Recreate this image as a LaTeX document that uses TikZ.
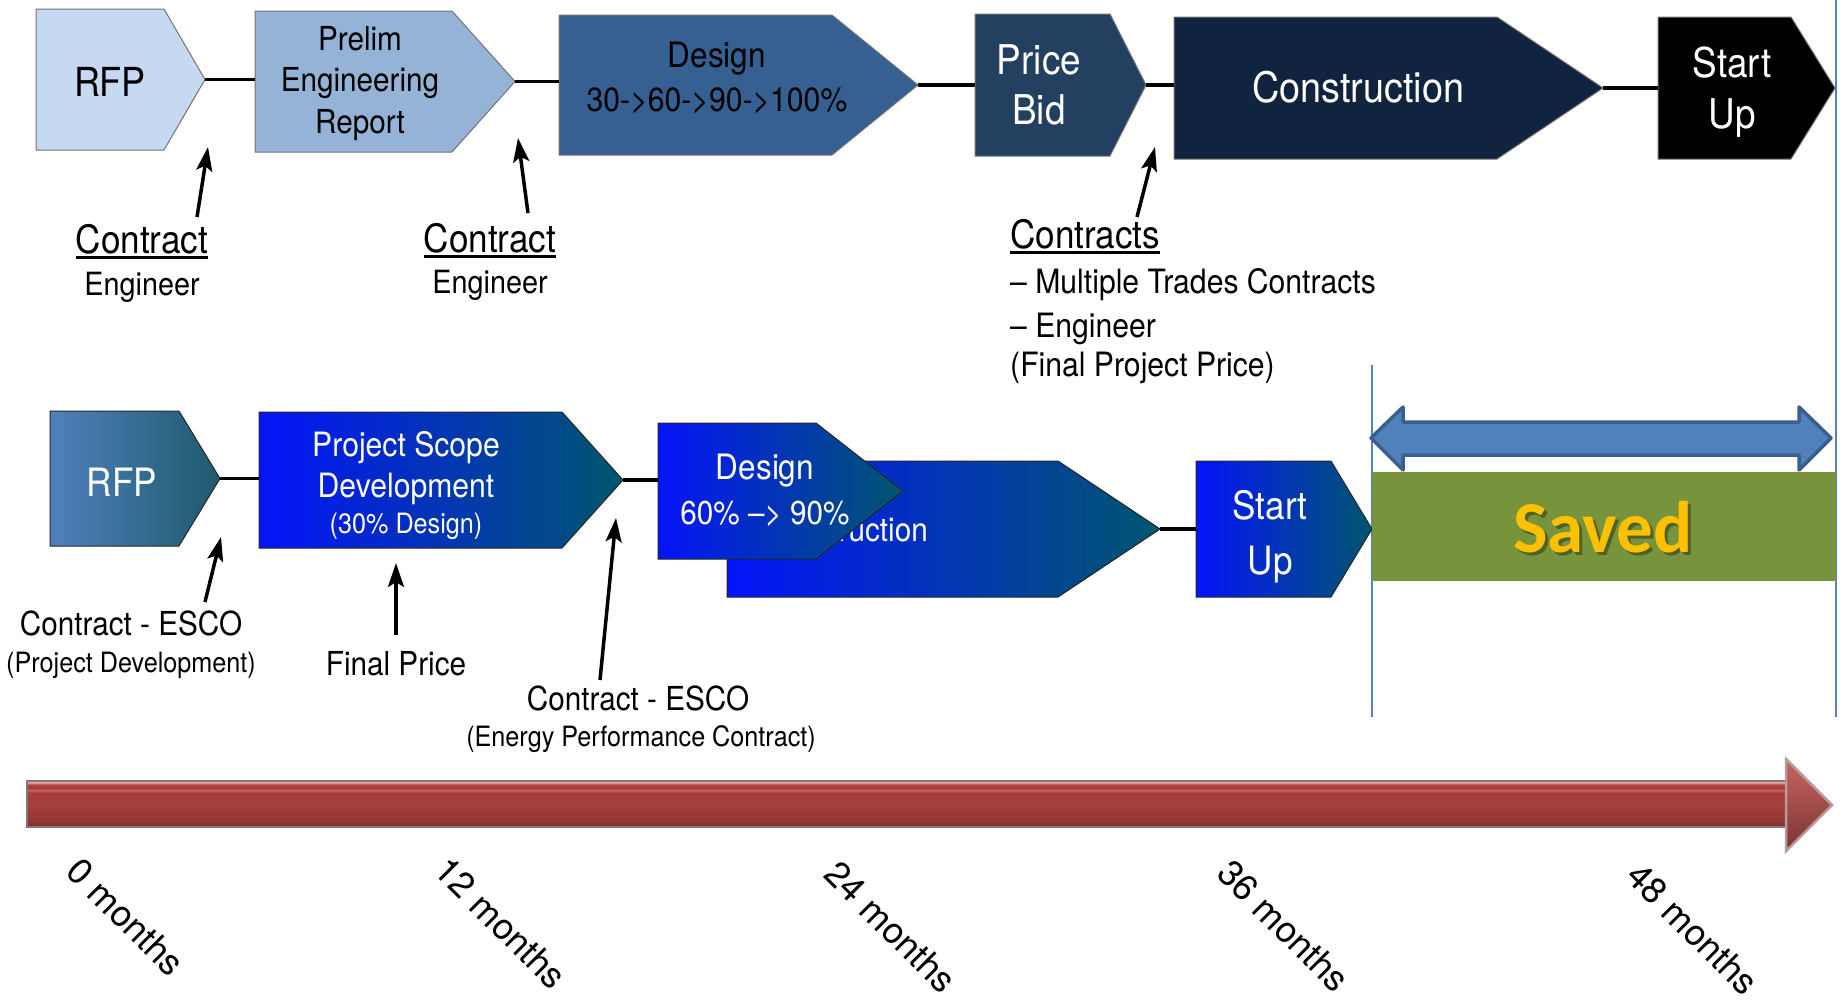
\documentclass[tikz,border=0pt]{standalone}
\usepackage{fontspec}
\setmainfont{TeX Gyre Heros}
\newfontfamily\nar{TeX Gyre Heros}[FakeStretch=0.9]
\newfontfamily\savedfnt{Carlito}
\usetikzlibrary{arrows.meta}
\definecolor{cA}{HTML}{C6D9F1}
\definecolor{cB}{HTML}{95B3D7}
\definecolor{cC}{HTML}{366092}
\definecolor{cD}{HTML}{244061}
\definecolor{cE}{HTML}{10243F}
\definecolor{gBlue}{HTML}{0414FA}
\definecolor{gTeal}{HTML}{01566E}
\definecolor{rL}{HTML}{4F81BD}
\definecolor{rR}{HTML}{1E5A6C}
\definecolor{vblue}{HTML}{4F81BD}
\definecolor{dblD}{HTML}{3A5F8E}
\definecolor{saveg}{HTML}{77933C}
\definecolor{gold}{HTML}{FFC000}
\definecolor{shad}{HTML}{3E4D1E}
\definecolor{rEdge}{HTML}{8C7373}
\definecolor{rDark}{HTML}{7B3331}
\definecolor{rDk}{HTML}{933837}
\definecolor{rMid}{HTML}{A43F3D}
\definecolor{rLight}{HTML}{C86462}
\definecolor{rPink}{HTML}{EBB3B1}
\definecolor{rEdgeT}{HTML}{B89A9A}
\pgfdeclareverticalshading{redbar}{100bp}{color(0bp)=(rEdge); color(25bp)=(rEdge); color(26.5bp)=(rDark); color(33bp)=(rDk); color(48bp)=(rMid); color(62bp)=(rMid); color(65bp)=(rLight); color(67bp)=(rMid); color(70bp)=(rMid); color(72bp)=(rLight); color(73.5bp)=(rPink); color(75bp)=(rEdgeT); color(100bp)=(rEdgeT)}
\newcommand\fs[2]{\fontsize{#1}{#2}\selectfont}
\newcommand\myul[1]{\setbox0=\hbox{#1}\rlap{\vrule height -3pt depth 6pt width \wd0}\box0}
\newcommand\chev[7]{%
  \path[#2] (#3,#6) -- (#4,#6) -- (#5,{(#6+#7)/2}) -- (#4,#7) -- (#3,#7) -- cycle;
  \coordinate (#1-w) at (#3,{(#6+#7)/2});
  \coordinate (#1-e) at (#5,{(#6+#7)/2});
}
\begin{document}
\begin{tikzpicture}[x=1pt,y=-1pt,
  conn/.style={line width=3.5pt, black},
  arr/.style={line width=3.5pt, black, -{Stealth[length=24pt,width=16pt,inset=5pt]}},
  box/.style={draw=black!55, line width=1pt},
  gbox/.style={draw=black!85, line width=1pt, left color=gBlue, right color=gTeal},
  txt/.style={inner sep=0pt, text=black},
  txtw/.style={inner sep=0pt, text=white},
  lbl/.style={inner sep=0pt, anchor=base, text=black},
  vline/.style={draw=vblue, line width=1.5pt},
  month/.style={inner sep=0pt, rotate=-45, font=\fs{36}{42}}
]
\useasboundingbox (0,0) rectangle (1845,1001);

% vertical guide lines
\coordinate (v1a) at (1372,365); \coordinate (v1b) at (1372,717);
\coordinate (v2a) at (1836,0);   \coordinate (v2b) at (1836,717);
\draw[vline] (v1a) -- (v1b);
\draw[vline] (v2a) -- (v2b);

% ---------- top row ----------
\chev{rfp}{box, fill=cA}{36}{164}{205}{9}{150}
\chev{pre}{box, fill=cB}{255}{452}{515}{11}{152}
\chev{des}{box, fill=cC}{559}{832}{918}{15}{155}
\chev{pb}{box, fill=cD}{975}{1110}{1146}{14}{156}
\chev{con}{box, fill=cE}{1174}{1497}{1603}{17}{159}
\chev{su}{box, fill=black}{1658}{1791}{1835}{17}{159}
\draw[conn] (rfp-e) -- (rfp-e -| pre-w);
\draw[conn] (pre-e) -- (pre-e -| des-w);
\draw[conn] (des-e) -- (des-e -| pb-w);
\draw[conn] (pb-e) -- (pb-e -| con-w);
\draw[conn] (con-e) -- (con-e -| su-w);

\node[txt, font=\nar\fs{40}{48}] (trfp) at (110,82) {RFP};
\node[txt, align=center, font=\nar\fs{33}{41.5}] (tpre) at (360,83.5) {Prelim\\Engineering\\Report};
\node[txt, align=center, font=\nar\fs{35}{44}] (tdes) at (717,78) {Design\\{\fs{33.5}{44}30->60->90->100\%}};
\node[txtw, align=center, font=\nar\fs{41}{50}] (tpb) at (1039,85) {Price\\Bid};
\node[txtw, font=\nar\fs{42}{48}] (tcon) at (1358,87) {Construction};
\node[txtw, align=center, font=\nar\fs{41}{51}] (tsu) at (1732,92.5) {Start\\Up};

% top labels
\node[lbl, font=\nar\fs{39}{44}] (l1a) at (142,253) {\myul{Contract}};
\node[lbl, font=\nar\fs{32}{40}] (l1b) at (142,295) {Engineer};
\node[lbl, font=\nar\fs{39}{44}] (l2a) at (490,252) {\myul{Contract}};
\node[lbl, font=\nar\fs{32}{40}] (l2b) at (490,293) {Engineer};
\node[lbl, anchor=base west, font=\nar\fs{39}{44}] (l3a) at (1010,248) {\myul{Contracts}};
\node[lbl, anchor=base west, font=\nar\fs{33.5}{40}] (l3b) at (1010,293) {– Multiple Trades Contracts};
\node[lbl, anchor=base west, font=\nar\fs{33.5}{40}] (l3c) at (1010,337) {– Engineer};
\node[lbl, anchor=base west, font=\nar\fs{33.5}{40}] (l3d) at (1010,376) {(Final Project Price)};

\coordinate (a1s) at (197,217); \coordinate (a1e) at (208,147);
\coordinate (a2s) at (528,213); \coordinate (a2e) at (518,138);
\coordinate (a3s) at (1137,217); \coordinate (a3e) at (1155,147);
\draw[arr] (a1s) -- (a1e);
\draw[arr] (a2s) -- (a2e);
\draw[arr] (a3s) -- (a3e);

% ---------- bottom row ----------
\chev{rfpb}{gbox, left color=rL, right color=rR}{50}{179}{220}{411}{546}
\chev{psd}{gbox}{259}{562}{623}{412}{548}
\chev{conb}{gbox}{727}{1058}{1160}{461}{597}
\node[txtw, anchor=base east, font=\nar\fs{33}{40}] (tconb) at (928,541) {Construction};
\chev{desb}{gbox}{658}{816}{903}{423}{559}
\chev{sub}{gbox}{1196}{1331}{1372}{461}{597}
\draw[conn] (rfpb-e) -- (rfpb-e -| psd-w);
\draw[conn] (psd-e) -- (psd-e -| desb-w);
\draw[conn] (conb-e) -- (conb-e -| sub-w);

\node[txtw, font=\nar\fs{39}{48}] (trfpb) at (122,482) {RFP};
\node[txtw, align=center, font=\nar\fs{33.5}{40.5}] (tpsd) at (406,486) {Project Scope\\Development\\[-4pt]{\fs{28}{36}(30\% Design)}};
\node[txtw, align=center, font=\nar\fs{35}{45}] (tdesb) at (765,490) {Design\\{\fs{33}{45}60\% –> 90\%}};
\node[txtw, align=center, font=\nar\fs{39}{55}] (tsub) at (1270,536.5) {Start\\Up};

% bottom labels
\node[lbl, font=\nar\fs{33}{40}] (m1a) at (131,635) {Contract - ESCO};
\node[lbl, font=\nar\fs{28}{34}] (m1b) at (131,672) {(Project Development)};
\node[lbl, font=\nar\fs{33}{40}] (m2a) at (396,675) {Final Price};
\node[lbl, font=\nar\fs{33}{40}] (m3a) at (638,710) {Contract - ESCO};
\node[lbl, font=\nar\fs{28}{34}] (m3b) at (641,746) {(Energy Performance Contract)};

\coordinate (b1s) at (205,602); \coordinate (b1e) at (221,537);
\coordinate (b2s) at (396,635); \coordinate (b2e) at (396,563);
\coordinate (b3s) at (600,680); \coordinate (b3e) at (616,518);
\draw[arr] (b1s) -- (b1e);
\draw[arr] (b2s) -- (b2e);
\draw[arr] (b3s) -- (b3e);

% ---------- saved ----------
\path[fill=vblue, draw=dblD, line width=3.5pt, line join=round]
  (1371,438) -- (1403,407) -- (1403,422) -- (1799,422) -- (1799,407) -- (1831,438)
  -- (1799,470) -- (1799,455) -- (1403,455) -- (1403,470) -- cycle;
\fill[saveg] (1372,472) rectangle (1836,581);
\node[inner sep=0pt, anchor=base, text=shad, opacity=0.7, font=\savedfnt\bfseries\fs{73}{80}] (svsh) at (1606,555) {Saved};
\node[inner sep=0pt, anchor=base, text=gold, font=\savedfnt\bfseries\fs{73}{80}] (sv) at (1603,552) {Saved};

% ---------- time arrow ----------
\path[shading=redbar, draw=rEdge, line width=1.2pt]
  (27,781) -- (1788,781) -- (1788,827) -- (27,827) -- cycle;
\path[top color=rLight, middle color=rMid, bottom color=rDark, draw=rEdgeT, line width=2.5pt, line join=miter]
  (1786,759) -- (1832,805) -- (1786,851) -- cycle;

\node[month] (mo0) at (126,917) {0 months};
\node[month] (mo12) at (501,923) {12 months};
\node[month] (mo24) at (891,927) {24 months};
\node[month] (mo36) at (1284,926) {36 months};
\node[month] (mo48) at (1693,929) {48 months};
\end{tikzpicture}
\end{document}
